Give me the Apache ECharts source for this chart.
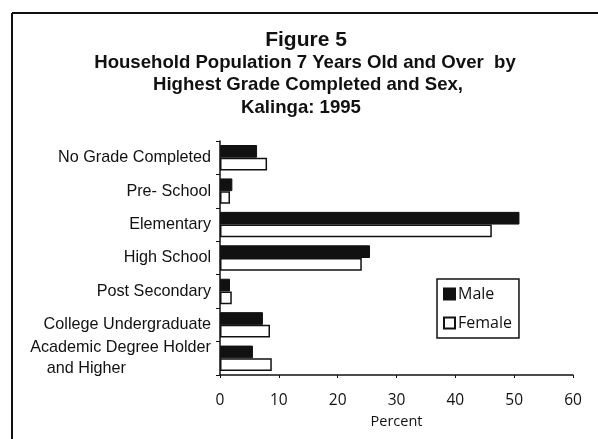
<!DOCTYPE html>
<html>
<head>
<meta charset="utf-8">
<script src="https://cdn.jsdelivr.net/npm/echarts@6/dist/echarts.min.js"></script>
<style>html,body{margin:0;padding:0;background:#fff;}#c{width:598px;height:439px;}</style>
</head>
<body>
<div id="c"></div>
<script>
const categories = ['No Grade Completed', 'Pre- School', 'Elementary', 'High School', 'Post Secondary', 'College Undergraduate', 'Academic Degree Holder\nand Higher'];
const maleValues = [6.3, 2.1, 50.9, 25.5, 1.7, 7.3, 5.6];
const femaleValues = [8.0, 1.7, 46.2, 24.1, 2.0, 8.5, 8.8];
const xTicks = [0, 10, 20, 30, 40, 50, 60];
const titleLines = ['Figure 5', 'Household Population 7 Years Old and Over  by', 'Highest Grade Completed and Sex,', 'Kalinga: 1995'];

const chart = echarts.init(document.getElementById('c'), null, {renderer: 'canvas'});
const titleFont = 'Liberation Sans, Arial, sans-serif';
const tickFont = 'Open Sans, sans-serif';
function titleText(str, x, y, size) {
  return {type: 'text', x: x, y: y, silent: true,
    style: {text: str, fontFamily: titleFont, fontWeight: 'bold', fontSize: size, fill: '#111',
      align: 'center', verticalAlign: 'middle', textAlign: 'center', textVerticalAlign: 'middle'}};
}
chart.setOption({
  animation: false,
  backgroundColor: '#fff',
  graphic: [
    {type: 'line', shape: {x1: 12, y1: 13, x2: 598, y2: 13}, style: {stroke: '#111', lineWidth: 2}},
    {type: 'line', shape: {x1: 12, y1: 13, x2: 12, y2: 439}, style: {stroke: '#111', lineWidth: 2}},
    titleText(titleLines[0], 306, 40, 21),
    titleText(titleLines[1], 305, 63, 18.6),
    titleText(titleLines[2], 308, 85, 18.6),
    titleText(titleLines[3], 301, 108, 18.6)
  ],
  legend: {
    orient: 'vertical',
    left: 437, top: 279,
    padding: [6, 7, 6, 6],
    itemGap: 11,
    itemWidth: 11, itemHeight: 11,
    borderColor: '#111', borderWidth: 1.5,
    icon: 'rect',
    textStyle: {fontFamily: tickFont, fontSize: 16, lineHeight: 18, color: '#111', padding: [0, 0, 0, -2]},
    data: ['Male', 'Female']
  },
  grid: {left: 220, right: 25, top: 141, bottom: 64},
  xAxis: {
    type: 'value', min: 0, max: 60, interval: 10,
    name: 'Percent', nameLocation: 'middle', nameGap: 34,
    nameTextStyle: {fontFamily: tickFont, fontSize: 14.5, color: '#111'},
    axisLine: {show: true, lineStyle: {color: '#111', width: 1.5}},
    axisTick: {show: true, length: 3, lineStyle: {color: '#111'}},
    splitLine: {show: false},
    axisLabel: {fontFamily: tickFont, fontSize: 15.5, color: '#111', margin: 18,
      formatter: v => xTicks.includes(v) ? String(v) : ''}
  },
  yAxis: {
    type: 'category', inverse: true, data: categories,
    axisLine: {show: true, lineStyle: {color: '#111', width: 1.5}},
    axisTick: {show: true, length: 4, lineStyle: {color: '#111'}},
    axisLabel: {
      fontFamily: titleFont, fontSize: 16.2, color: '#111', margin: 9, lineHeight: 21,
      formatter: function (v) {
        if (v.indexOf('\n') >= 0) {
          const p = v.split('\n');
          return '{a|' + p[0] + '}\n{b|' + p[1] + '}';
        }
        return v;
      },
      rich: {
        a: {fontFamily: titleFont, fontSize: 16.2, color: '#111', lineHeight: 21},
        b: {fontFamily: titleFont, fontSize: 16.2, color: '#111', lineHeight: 21, padding: [0, 85, 0, 0]}
      }
    }
  },
  series: [
    {name: 'Male', type: 'bar', data: maleValues, barGap: '0%', barCategoryGap: '24%',
      itemStyle: {color: '#111', borderColor: '#111', borderWidth: 1}},
    {name: 'Female', type: 'bar', data: femaleValues, barGap: '0%', barCategoryGap: '24%',
      itemStyle: {color: '#fff', borderColor: '#111', borderWidth: 1.5}}
  ]
});
</script>
</body>
</html>
